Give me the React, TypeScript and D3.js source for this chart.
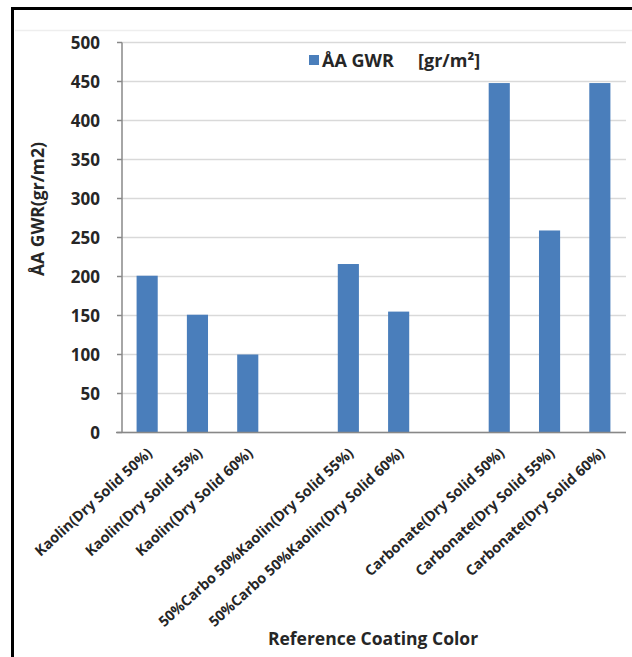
import React from "react";
import * as d3 from "d3";

const categories: string[] = [
  "Kaolin(Dry Solid 50%)",
  "Kaolin(Dry Solid 55%)",
  "Kaolin(Dry Solid 60%)",
  "",
  "50%Carbo 50%Kaolin(Dry Solid 55%)",
  "50%Carbo 50%Kaolin(Dry Solid 60%)",
  "",
  "Carbonate(Dry Solid 50%)",
  "Carbonate(Dry Solid 55%)",
  "Carbonate(Dry Solid 60%)",
];
const values: (number | null)[] = [201, 151, 100, null, 216, 155, null, 448, 259, 448];
const yTicks: number[] = [0, 50, 100, 150, 200, 250, 300, 350, 400, 450, 500];
const seriesName = "ÅA GWR";
const seriesUnit = "[gr/m²]";
const yTitle = "ÅA GWR(gr/m2)";
const xTitle = "Reference Coating Color";

const W = 632;
const H = 657;
const left = 122;
const right = 625;
const top = 42.5;
const bottom = 432.5;
const FONT = "'Open Sans', sans-serif";
const BAR = "#4A7EBB";
const TXT = "#262626";

export default function App() {
  const keys = categories.map((_, i) => String(i));
  const x = d3.scaleBand<string>().domain(keys).range([left, right]).paddingInner(0.58).paddingOuter(0.29);
  const y = d3.scaleLinear().domain([0, 500]).range([bottom, top]);
  const bw = x.bandwidth();

  return (
    <svg width={W} height={H} style={{ position: "absolute", left: 0, top: 0, background: "#fff" }} fontFamily={FONT}>
      {/* frame */}
      <line x1={11} x2={W} y1={8.5} y2={8.5} stroke="#000" strokeWidth={3} />
      <line x1={12.5} x2={12.5} y1={7} y2={H} stroke="#000" strokeWidth={3} />
      <line x1={15} x2={W} y1={30.5} y2={30.5} stroke="#EEEEEE" strokeWidth={1.5} />

      {/* gridlines */}
      {yTicks.map((t) => (
        <line key={"g" + t} x1={left} x2={626} y1={y(t)} y2={y(t)} stroke="#D9D9D9" strokeWidth={1.5} />
      ))}

      {/* bars */}
      {values.map((v, i) =>
        v == null ? null : (
          <rect key={"b" + i} x={x(String(i))!} y={y(v)} width={bw} height={y(0) - y(v)} fill={BAR} />
        )
      )}

      {/* y axis */}
      <line x1={left} x2={left} y1={top} y2={bottom} stroke="#888" strokeWidth={1.5} />
      {yTicks.map((t) => (
        <g key={"t" + t}>
          <line x1={117} x2={left} y1={y(t)} y2={y(t)} stroke="#888" strokeWidth={1.5} />
          <text x={100} y={y(t)} dy="0.36em" textAnchor="end" fontSize={17} fontWeight={700} fill={TXT}>
            {t}
          </text>
        </g>
      ))}
      {/* x axis */}
      <line x1={116} x2={626} y1={bottom} y2={bottom} stroke="#888" strokeWidth={1.5} />

      {/* category labels */}
      {categories.map((c, i) =>
        c ? (
          <text
            key={"c" + i}
            transform={`translate(${x(String(i))! + bw / 2 + 6},${bottom + 22}) rotate(-42.3)`}
            textAnchor="end"
            fontSize={14.4}
            fontWeight={700}
            fill={TXT}
          >
            {c}
          </text>
        ) : null
      )}

      {/* y title */}
      <text transform={`translate(44,209) rotate(-90)`} textAnchor="middle" fontSize={17.5} fontWeight={700} fill={TXT}>
        {yTitle}
      </text>

      {/* x title */}
      <text x={373} y={645} textAnchor="middle" fontSize={17.5} fontWeight={700} fill={TXT}>
        {xTitle}
      </text>

      {/* legend */}
      <rect x={309} y={55} width={10} height={10} fill={BAR} />
      <text y={67} fontSize={18} fontWeight={700} fill={TXT}>
        <tspan x={322}>{seriesName}</tspan>
        <tspan x={418}>{seriesUnit}</tspan>
      </text>
    </svg>
  );
}
